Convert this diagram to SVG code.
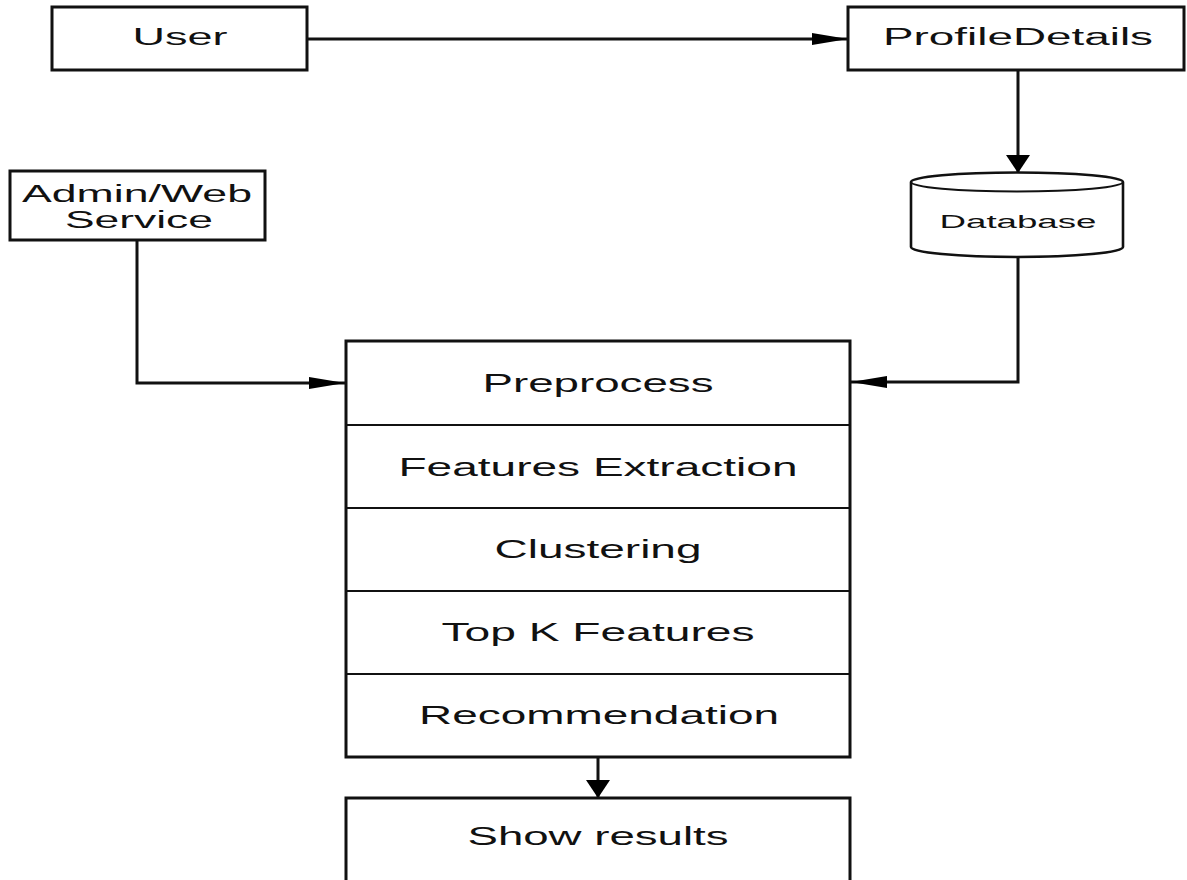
<svg xmlns="http://www.w3.org/2000/svg" width="1187" height="880" viewBox="0 0 1187 880">
<style>
.box{fill:#fff;stroke:#111;stroke-width:3}
.div{stroke:#111;stroke-width:2.2}
.t{font-family:"Liberation Sans",Arial,sans-serif;fill:#111;text-anchor:middle}
.conn{fill:none;stroke:#111;stroke-width:3}
</style>
<defs>
<marker id="arrowH" markerUnits="userSpaceOnUse" markerWidth="38" markerHeight="14" refX="36" refY="6" orient="auto" overflow="visible">
<path d="M0,0 L36,6 L0,12 Z" fill="#000"/>
</marker>
<marker id="arrowV" markerUnits="userSpaceOnUse" markerWidth="20" markerHeight="26" refX="18" refY="12" orient="auto" overflow="visible">
<path d="M0,0 L18,12 L0,24 Z" fill="#000"/>
</marker>
</defs>
<rect width="1187" height="880" fill="#fff"/>
<g id="connectors">
<path class="conn" d="M307,39 H848" stroke-width="2.4" marker-end="url(#arrowH)"/>
<path class="conn" d="M1018,70 V173" marker-end="url(#arrowV)"/>
<path class="conn" d="M1018,257 V382 H851" marker-end="url(#arrowH)"/>
<path class="conn" d="M137,240 V383 H345" marker-end="url(#arrowH)"/>
<path class="conn" d="M598,757 V798" marker-end="url(#arrowV)"/>
</g>
<g id="user">
<rect class="box" x="52" y="7" width="255" height="63"/>
<text class="t" x="180" y="45" font-size="23" textLength="95" lengthAdjust="spacingAndGlyphs">User</text>
</g>
<g id="profiledetails">
<rect class="box" x="848" y="7" width="336" height="63"/>
<text class="t" x="1018" y="45" font-size="23" textLength="270" lengthAdjust="spacingAndGlyphs">ProfileDetails</text>
</g>
<g id="admin">
<rect class="box" x="10" y="171" width="255" height="69"/>
<text class="t" x="137" y="202" font-size="23" textLength="230" lengthAdjust="spacingAndGlyphs">Admin/Web</text>
<text class="t" x="139" y="228" font-size="23" textLength="148" lengthAdjust="spacingAndGlyphs">Service</text>
</g>
<g id="database">
<path d="M911,182 V247 A106,10 0 0 0 1123,247 V182 A106,9.5 0 0 0 911,182 Z" fill="#fff" stroke="#111" stroke-width="2.6"/>
<path d="M911,182 A106,9.5 0 0 0 1123,182" fill="none" stroke="#111" stroke-width="2"/>
<text class="t" x="1018" y="228" font-size="18" textLength="157" lengthAdjust="spacingAndGlyphs">Database</text>
</g>
<g id="pipeline">
<rect class="box" x="346" y="341" width="504" height="416"/>
<line class="div" x1="346" y1="425" x2="850" y2="425"/>
<line class="div" x1="346" y1="508" x2="850" y2="508"/>
<line class="div" x1="346" y1="591" x2="850" y2="591"/>
<line class="div" x1="346" y1="674" x2="850" y2="674"/>
<text class="t" x="598" y="392" font-size="26" textLength="231" lengthAdjust="spacingAndGlyphs">Preprocess</text>
<text class="t" x="598" y="476" font-size="26" textLength="399" lengthAdjust="spacingAndGlyphs">Features Extraction</text>
<text class="t" x="598" y="558" font-size="26" textLength="207" lengthAdjust="spacingAndGlyphs">Clustering</text>
<text class="t" x="598" y="641" font-size="26" textLength="313" lengthAdjust="spacingAndGlyphs">Top K Features</text>
<text class="t" x="599" y="724" font-size="26" textLength="360" lengthAdjust="spacingAndGlyphs">Recommendation</text>
</g>
<g id="showresults">
<rect class="box" x="346" y="798" width="504" height="110"/>
<text class="t" x="598" y="845" font-size="26" textLength="261" lengthAdjust="spacingAndGlyphs">Show results</text>
</g>
</svg>
